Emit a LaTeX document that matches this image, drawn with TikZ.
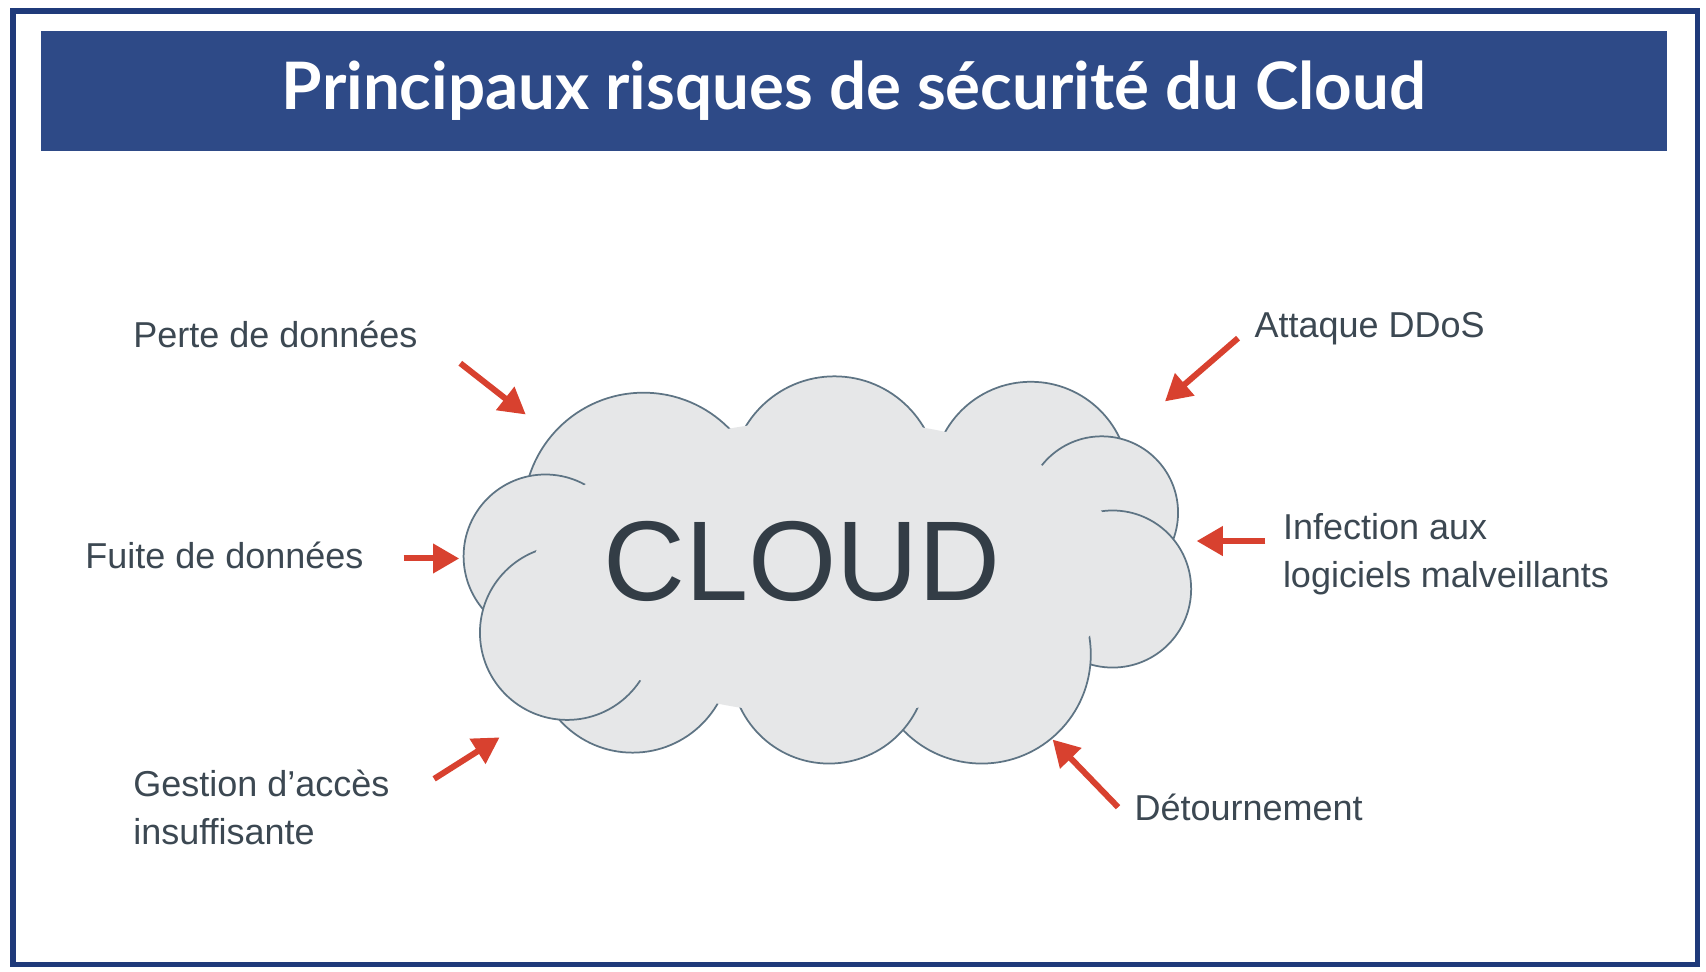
\documentclass[tikz,border=0pt]{standalone}
\usepackage{fontspec}
\setmainfont{Liberation Sans}
\newfontfamily\titlefont{Lato}
\usetikzlibrary{arrows.meta}
\definecolor{navy}{HTML}{2E4A87}
\definecolor{frame}{HTML}{1F3A7A}
\definecolor{cloudfill}{HTML}{E6E7E8}
\definecolor{cloudline}{HTML}{5E7484}
\definecolor{txt}{HTML}{3C4852}
\definecolor{arr}{HTML}{D8412F}
\tikzset{
  lbl/.style={text=txt,font=\fontsize{33}{44}\selectfont,inner sep=0pt,align=left},
  riskarrow/.style={draw=arr,line width=5.5pt,-{Triangle[length=24pt,width=26pt]}},
  puff/.style={fill=cloudfill,draw=cloudline,line width=1.6pt}
}
\begin{document}
\begin{tikzpicture}[x=1pt,y=-1pt]
\useasboundingbox (0,0) rectangle (1564,891);
\fill[white] (0,0) rectangle (1564,891);
\draw[frame,line width=5pt] (12,10) rectangle (1556,884);
\node[fill=navy,minimum width=1490pt,minimum height=110pt,inner sep=0pt,text=white,font=\titlefont\bfseries\fontsize{60}{70}\selectfont] (title) at (783,83) {Principaux risques de sécurité du Cloud};
% cloud
\foreach \cx/\cy/\r in {590/470/110, 765/440/95, 945/440/90, 1010/470/70, 1020/540/72, 900/600/100, 760/610/90, 580/600/90, 500/510/75, 520/580/80}
  \draw[puff] (\cx,\cy) circle (\r);
\fill[cloudfill] (760,520) ellipse (270 and 135);
\node[text=txt!85!black,font=\fontsize{104}{110}\selectfont,inner sep=0pt] (cloud) at (735,515) {CLOUD};
% labels
\node[lbl,anchor=west] (perte) at (122,307) {Perte de données};
\node[lbl,anchor=west] (ddos) at (1150,301) {Attaque DDoS};
\node[lbl,anchor=west] (fuite) at (78,509) {Fuite de données};
\node[lbl,anchor=west] (infect) at (1176,508) {Infection aux\\logiciels malveillants};
\node[lbl,anchor=west] (gestion) at (122,740) {Gestion d'accès\\insuffisante};
\node[lbl,anchor=west] (detour) at (1040,740) {Détournement};
% arrows
\coordinate (a1s) at (422,333); \coordinate (a1e) at (482,380);
\coordinate (a2s) at (1135,310); \coordinate (a2e) at (1068,368);
\coordinate (a3s) at (370,512); \coordinate (a3e) at (421,512);
\coordinate (a4s) at (1160,496); \coordinate (a4e) at (1097,496);
\coordinate (a5s) at (398,714); \coordinate (a5e) at (458,676);
\coordinate (a6s) at (1025,740); \coordinate (a6e) at (965,678);
\draw[riskarrow] (a1s) -- (a1e);
\draw[riskarrow] (a2s) -- (a2e);
\draw[riskarrow] (a3s) -- (a3e);
\draw[riskarrow] (a4s) -- (a4e);
\draw[riskarrow] (a5s) -- (a5e);
\draw[riskarrow] (a6s) -- (a6e);
\end{tikzpicture}
\end{document}
